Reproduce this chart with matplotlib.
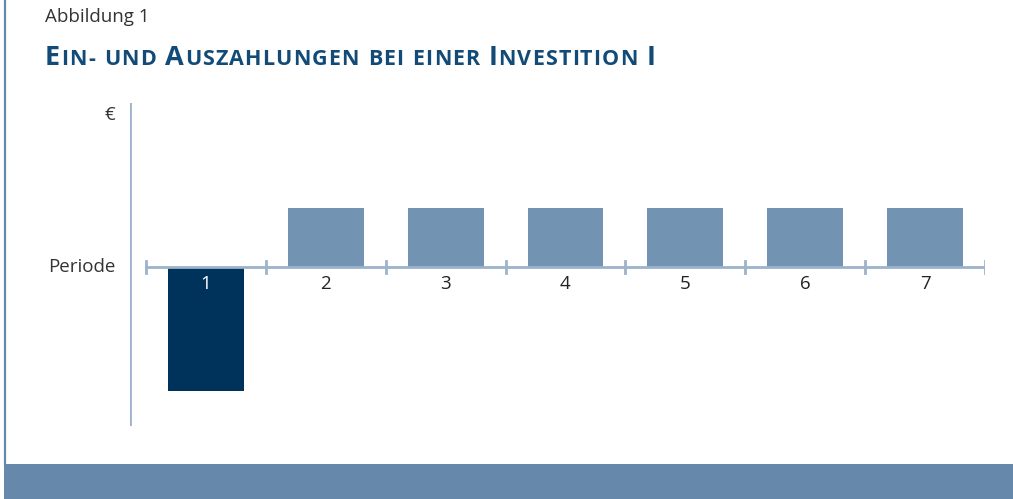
import numpy as np
import matplotlib.pyplot as plt
from matplotlib.patches import Rectangle

# Data
periods = [1, 2, 3, 4, 5, 6, 7]
values = [-2.1, 1, 1, 1, 1, 1, 1]  # Auszahlung in Periode 1, danach Einzahlungen
tick_labels = ["1", "2", "3", "4", "5", "6", "7"]
title_words = ["Ein-", "und", "Auszahlungen", "bei", "einer", "Investition", "I"]

W, H = 1013, 499
fig = plt.figure(figsize=(W / 100, H / 100), dpi=100)

dark = "#00335c"
light = "#7393b3"
axis_col = "#9db2cb"
title_col = "#134b78"
band_col = "#6689ab"
txt_col = "#333333"

# frame: left line and bottom band
fig.add_artist(plt.Line2D([5 / W, 5 / W], [35 / H, 1], color=band_col, lw=1.6))
fig.add_artist(Rectangle((4 / W, 0), 1 - 4 / W, 35 / H, transform=fig.transFigure,
                         color=band_col, lw=0))

fig.text(45 / W, 1 - 17 / H, "Abbildung 1", fontsize=13.5, color=txt_col,
         family="Open Sans", va="center", ha="left")

# title in pseudo small caps, letter by letter for a bit of tracking
fig.canvas.draw()
r = fig.canvas.get_renderer()
x = 45 / W
y = 1 - 65 / H
big, small = 19.5, 15.5
track = 1.1 / W
for w in title_words:
    for i, ch in enumerate(w):
        fs = big if (i == 0 and w[0].isupper()) else small
        t = fig.text(x, y, ch.upper(), fontsize=fs, color=title_col, family="Open Sans",
                     weight="bold", ha="left", va="baseline")
        # advance width, measured with a trailing reference char
        bb = t.get_window_extent(renderer=r)
        x += bb.width / W + track
    x += 8 / W

# chart axes
ax = fig.add_axes([130 / W, (H - 426) / H, (985 - 130) / W, 323 / H])
ax.set_xlim(0.5 - 16 / 120, 7.5)
ax.set_ylim(-159 / 59, 164 / 59)
ax.axis("off")

cols = [dark if v < 0 else light for v in values]
ax.bar(periods, values, width=76 / 120, color=cols, zorder=2)

ax.axvline(ax.get_xlim()[0], color=axis_col, lw=2)
ax.plot([0.5, 7.5], [0, 0], color=axis_col, lw=2, zorder=3)
for tx in np.arange(0.5, 8.0, 1.0):
    ax.plot([tx, tx], [-6 / 59, 6 / 59], color=axis_col, lw=2, zorder=3)

for p, lab, v in zip(periods, tick_labels, values):
    ax.text(p, -17 / 59, lab, ha="center", va="center", fontsize=13.5,
            family="Open Sans", color="white" if v < 0 else "#222222", zorder=4)

fig.text(115 / W, 1 - 267 / H, "Periode", ha="right", va="center", fontsize=13.5,
         family="Open Sans", color=txt_col)
fig.text(115 / W, 1 - 115 / H, "€", ha="right", va="center", fontsize=13.5,
         family="Open Sans", color=txt_col)

fig.savefig("out.png", dpi=100)
